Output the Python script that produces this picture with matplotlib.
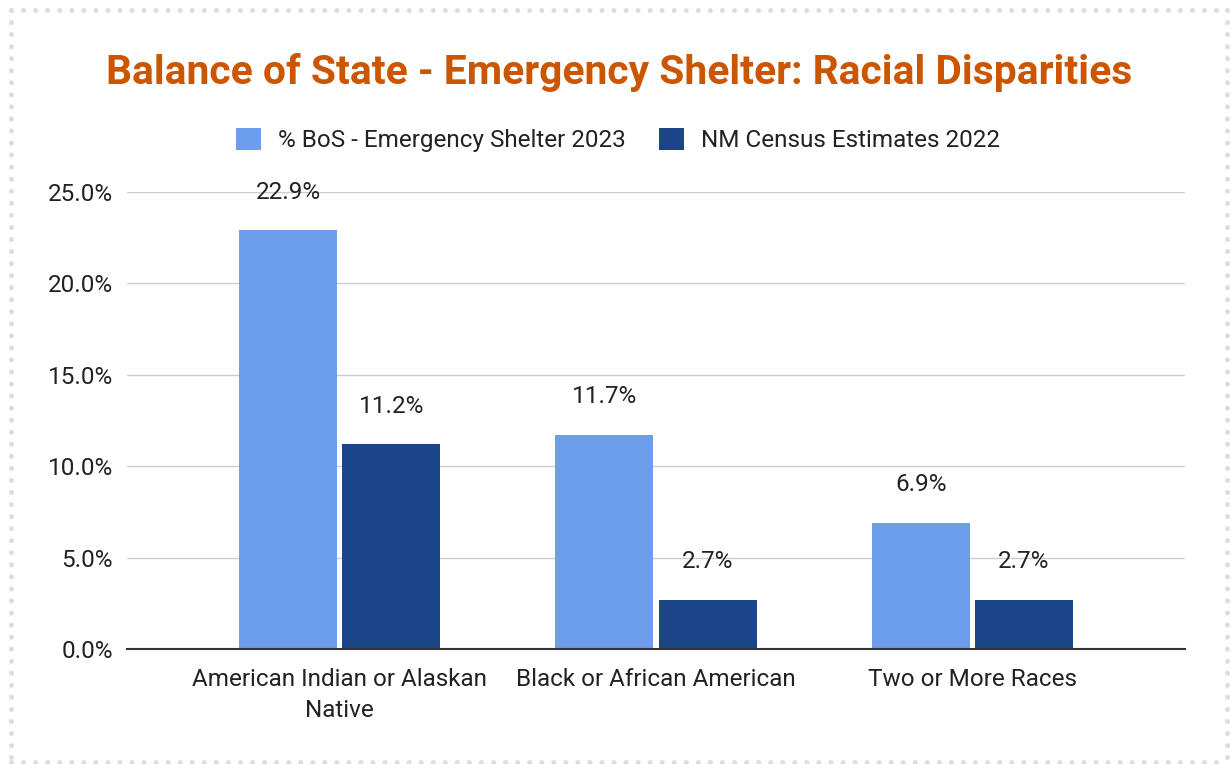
import numpy as np
import matplotlib.pyplot as plt

plt.rcParams['font.family'] = ['Roboto', 'DejaVu Sans']

categories = ["American Indian or Alaskan\nNative", "Black or African American", "Two or More Races"]
bos_shelter = [22.9, 11.7, 6.9]
nm_census = [11.2, 2.7, 2.7]
series_names = ["% BoS - Emergency Shelter 2023", "NM Census Estimates 2022"]
yticks = [0, 5, 10, 15, 20, 25]

fig = plt.figure(figsize=(12.31, 7.64), dpi=100)
ax = fig.add_axes([127/1231, 1 - 649/764, (1185-127)/1231, (649-192)/764])

x = np.arange(len(categories))
w = 0.31
off = 0.163
b1 = ax.bar(x - off, bos_shelter, w, color='#6d9eeb', label=series_names[0], zorder=3)
b2 = ax.bar(x + off, nm_census, w, color='#1c4587', label=series_names[1], zorder=3)

for bars, vals in [(b1, bos_shelter), (b2, nm_census)]:
    for r, v in zip(bars, vals):
        ax.annotate(f"{v:.1f}%", (r.get_x() + r.get_width()/2, v),
                    xytext=(0, 27.5), textcoords='offset points',
                    ha='center', va='center', fontsize=17.5, color='#222222')

ax.set_xlim(-0.672, 2.672)
ax.set_ylim(0, 25)
ax.set_yticks(yticks)
ax.set_yticklabels([f"{t:.1f}%" for t in yticks], fontsize=17.5, color='#222222')
ax.set_xticks(x)
ax.set_xticklabels(categories, fontsize=17.5, color='#222222', linespacing=1.45)
ax.tick_params(axis='both', length=0)
ax.tick_params(axis='x', pad=13.5)
ax.tick_params(axis='y', pad=10)
ax.grid(axis='y', color='#cccccc', linewidth=1, zorder=0)
for s in ['top', 'right', 'left']:
    ax.spines[s].set_visible(False)
ax.spines['bottom'].set_color('#333333')
ax.spines['bottom'].set_linewidth(1.5)
ax.spines['bottom'].set_zorder(4)

fig.text(619/1231, 1 - 73/764, "Balance of State - Emergency Shelter: Racial Disparities",
         ha='center', va='center', fontsize=29.3, fontweight='bold', color='#cc5500')

fig.legend(loc='center', bbox_to_anchor=(618/1231, 1 - 140/764), ncol=2, frameon=False,
           fontsize=17.5, handlelength=1.0, handleheight=1.0, columnspacing=1.4,
           handletextpad=0.7, labelcolor='#222222')

# dotted border
for (x0, y0, x1, y1) in [(11, 10, 1227, 10), (11, 762, 1227, 762), (11, 10, 11, 762), (1227, 10, 1227, 762)]:
    fig.add_artist(plt.Line2D([x0/1231, x1/1231], [1 - y0/764, 1 - y1/764],
                              transform=fig.transFigure, color='#dddddd',
                              linewidth=3.6, linestyle=(0, (0.01, 2.4)), dash_capstyle='round'))

fig.savefig('out.png', dpi=100)
